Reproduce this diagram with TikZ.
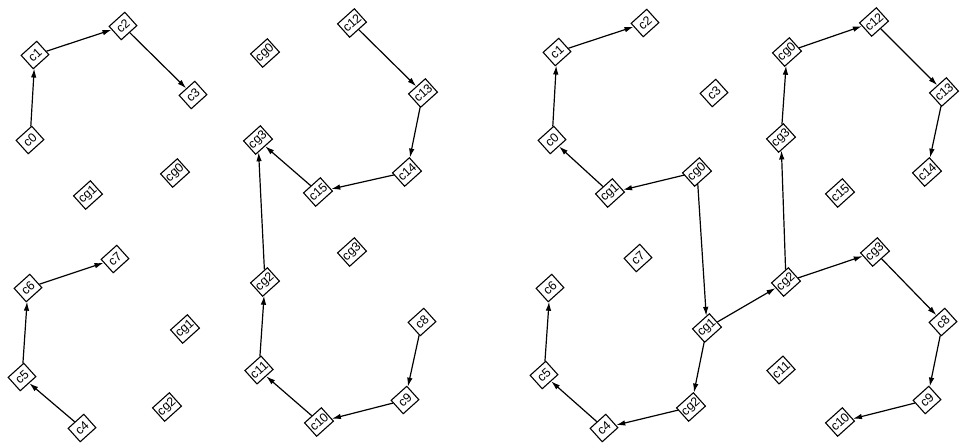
\documentclass[tikz,border=0pt]{standalone}
\usepackage{fontspec}
\setmainfont{Liberation Sans}
\usetikzlibrary{arrows.meta}
\begin{document}
\begin{tikzpicture}[x=1pt,y=-1pt,
  nbox/.style={draw, line width=1.1pt, rotate=42, font=\fontsize{12.5}{13}\selectfont,
    inner sep=1.2pt, minimum width=21pt, minimum height=18pt, fill=white},
  arr/.style={line width=1.2pt, -{Latex[length=9pt,width=5.5pt]}}]
\useasboundingbox (0,0) rectangle (960,447);
% left graph
\node[nbox] (Lc0) at (30,140) {c0};
\node[nbox] (Lc1) at (35,55) {c1};
\node[nbox] (Lc2) at (123,26) {c2};
\node[nbox] (Lc3) at (193,95) {c3};
\node[nbox] (Lcg1a) at (88,195) {cg1};
\node[nbox] (Lcg0a) at (175,173) {cg0};
\node[nbox] (Lcg0b) at (265,53) {cg0};
\node[nbox] (Lc12) at (352,23) {c12};
\node[nbox] (Lc13) at (423,93) {c13};
\node[nbox] (Lc14) at (407,172) {c14};
\node[nbox] (Lc15) at (318,192) {c15};
\node[nbox] (Lcg3a) at (258,140) {cg3};
\node[nbox] (Lc7) at (115,259) {c7};
\node[nbox] (Lc6) at (28,288) {c6};
\node[nbox] (Lcg1b) at (185,329) {cg1};
\node[nbox] (Lc5) at (22,377) {c5};
\node[nbox] (Lcg2b) at (167,407) {cg2};
\node[nbox] (Lc4) at (82,428) {c4};
\node[nbox] (Lcg3b) at (352,252) {cg3};
\node[nbox] (Lcg2a) at (265,282) {cg2};
\node[nbox] (Lc8) at (422,322) {c8};
\node[nbox] (Lc11) at (259,370) {c11};
\node[nbox] (Lc9) at (405,400) {c9};
\node[nbox] (Lc10) at (319,422) {c10};
\draw[arr] (Lc0) -- (Lc1);
\draw[arr] (Lc1) -- (Lc2);
\draw[arr] (Lc2) -- (Lc3);
\draw[arr] (Lc12) -- (Lc13);
\draw[arr] (Lc13) -- (Lc14);
\draw[arr] (Lc14) -- (Lc15);
\draw[arr] (Lc15) -- (Lcg3a);
\draw[arr] (Lcg2a) -- (Lcg3a);
\draw[arr] (Lc11) -- (Lcg2a);
\draw[arr] (Lc10) -- (Lc11);
\draw[arr] (Lc9) -- (Lc10);
\draw[arr] (Lc8) -- (Lc9);
\draw[arr] (Lc4) -- (Lc5);
\draw[arr] (Lc5) -- (Lc6);
\draw[arr] (Lc6) -- (Lc7);
% right graph
\node[nbox] (Rc2) at (645,23) {c2};
\node[nbox] (Rc1) at (557,52) {c1};
\node[nbox] (Rc3) at (714,93) {c3};
\node[nbox] (Rc0) at (552,140) {c0};
\node[nbox] (Rcg0a) at (697,172) {cg0};
\node[nbox] (Rcg1a) at (610,193) {cg1};
\node[nbox] (Rcg0b) at (787,52) {cg0};
\node[nbox] (Rc12) at (874,22) {c12};
\node[nbox] (Rc13) at (944,92) {c13};
\node[nbox] (Rcg3a) at (781,138) {cg3};
\node[nbox] (Rc14) at (927,172) {c14};
\node[nbox] (Rc15) at (840,193) {c15};
\node[nbox] (Rc7) at (638,258) {c7};
\node[nbox] (Rc6) at (550,288) {c6};
\node[nbox] (Rcg1b) at (707,328) {cg1};
\node[nbox] (Rc5) at (544,375) {c5};
\node[nbox] (Rcg2b) at (691,407) {cg2};
\node[nbox] (Rc4) at (604,428) {c4};
\node[nbox] (Rcg2a) at (786,282) {cg2};
\node[nbox] (Rcg3b) at (875,252) {cg3};
\node[nbox] (Rc8) at (943,322) {c8};
\node[nbox] (Rc11) at (781,370) {c11};
\node[nbox] (Rc9) at (927,400) {c9};
\node[nbox] (Rc10) at (840,422) {c10};
\draw[arr] (Rc0) -- (Rc1);
\draw[arr] (Rc1) -- (Rc2);
\draw[arr] (Rcg1a) -- (Rc0);
\draw[arr] (Rcg0a) -- (Rcg1a);
\draw[arr] (Rcg0a) -- (Rcg1b);
\draw[arr] (Rcg3a) -- (Rcg0b);
\draw[arr] (Rcg0b) -- (Rc12);
\draw[arr] (Rc12) -- (Rc13);
\draw[arr] (Rc13) -- (Rc14);
\draw[arr] (Rcg2a) -- (Rcg3a);
\draw[arr] (Rcg1b) -- (Rcg2a);
\draw[arr] (Rcg2a) -- (Rcg3b);
\draw[arr] (Rcg3b) -- (Rc8);
\draw[arr] (Rc8) -- (Rc9);
\draw[arr] (Rc9) -- (Rc10);
\draw[arr] (Rcg1b) -- (Rcg2b);
\draw[arr] (Rcg2b) -- (Rc4);
\draw[arr] (Rc4) -- (Rc5);
\draw[arr] (Rc5) -- (Rc6);
\end{tikzpicture}
\end{document}
